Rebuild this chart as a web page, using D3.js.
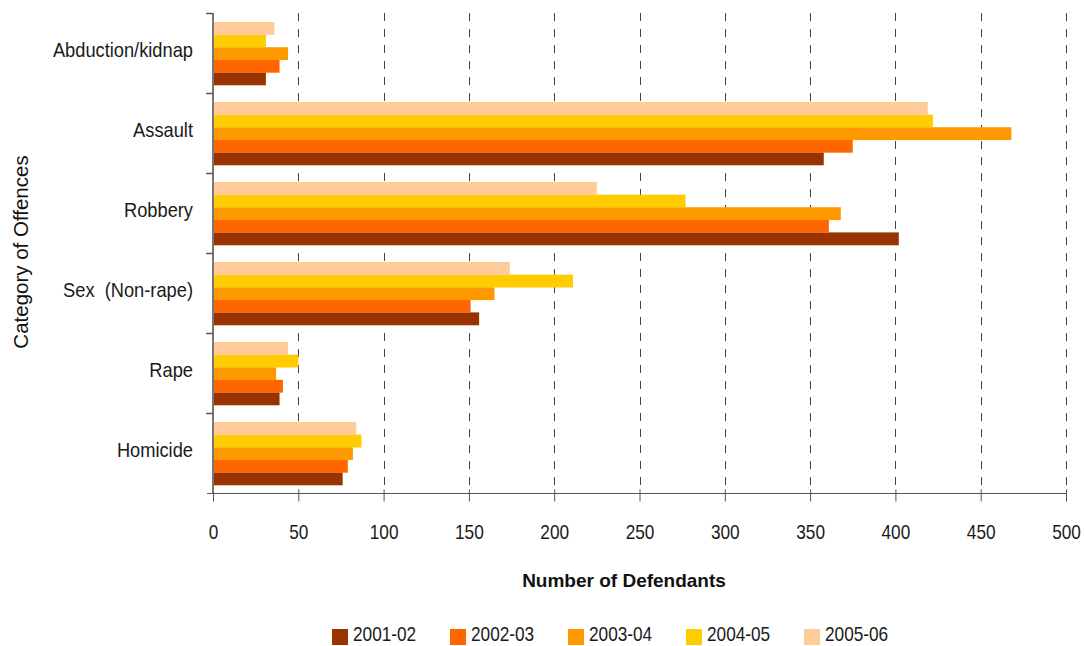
<!DOCTYPE html>
<html>
<head>
<meta charset="utf-8">
<script src="https://cdn.jsdelivr.net/npm/d3@7"></script>
<style>
  body { margin: 0; background: #fff; }
  .narrow { font-family: "Liberation Sans", Arial, sans-serif; }
</style>
</head>
<body>
<div id="target-div"></div>
<script>
const w = 1085
const h = 646
const squeeze = 0.82   // no narrow font installed, so squeeze regular sans
const catSqueeze = 0.87

// categories top to bottom
const categories = ['Abduction/kidnap', 'Assault', 'Robbery', 'Sex  (Non-rape)', 'Rape', 'Homicide']
const years = ['2001-02', '2002-03', '2003-04', '2004-05', '2005-06']
const colors = ['#993300', '#ff6600', '#ff9900', '#ffcc00', '#ffcc99']
const xTicks = [0, 50, 100, 150, 200, 250, 300, 350, 400, 450, 500]

// values per year, in category order
const v2001 = [31, 358, 402, 156, 39, 76]
const v2002 = [39, 375, 361, 151, 41, 79]
const v2003 = [44, 468, 368, 165, 37, 82]
const v2004 = [31, 422, 277, 211, 50, 87]
const v2005 = [36, 419, 225, 174, 44, 84]
const series = [v2001, v2002, v2003, v2004, v2005]

const pLeft = 213, pRight = 1066, pTop = 13, pBottom = 493

let svg = d3.select('#target-div')
    .append('svg')
    .attr('width', w)
    .attr('height', h)

let xScale = d3.scaleLinear()
    .domain([0, 500])
    .range([pLeft, pRight])

let yScale = d3.scaleBand()
    .domain(categories)
    .range([pTop, pBottom])

// 2005-06 sits at the top of each group
let yInner = d3.scaleBand()
    .domain(years.slice().reverse())
    .range([9, 72])

// dashed gridlines
svg.append('g')
    .selectAll('line')
    .data(xTicks.slice(1))
    .enter()
    .append('line')
    .attr('x1', d => Math.round(xScale(d)) + 0.5)
    .attr('x2', d => Math.round(xScale(d)) + 0.5)
    .attr('y1', pTop)
    .attr('y2', pBottom)
    .attr('stroke', '#444')
    .attr('stroke-width', 1)
    .attr('stroke-dasharray', '8,8')

// bars
let rows = []
years.forEach(function(yr, j){
    categories.forEach(function(c, i){
        rows.push({cat: c, year: yr, value: series[j][i], color: colors[j]})
    })
})

svg.append('g')
    .selectAll('rect')
    .data(rows)
    .enter()
    .append('rect')
    .attr('x', xScale(0))
    .attr('y', d => yScale(d.cat) + yInner(d.year))
    .attr('width', d => xScale(d.value) - xScale(0))
    .attr('height', yInner.bandwidth() + 0.3)
    .attr('fill', d => d.color)

// x axis
let xAxis = svg.append('g')
    .attr('transform', 'translate(0,' + (pBottom + 0.5) + ')')
    .call(d3.axisBottom(xScale).tickValues(xTicks).tickSize(8).tickPadding(23).tickSizeOuter(0))
xAxis.select('.domain').attr('stroke', '#555').attr('d', 'M' + (pLeft - 6) + ',0H' + pRight)
xAxis.selectAll('.tick line').attr('stroke', '#555').attr('y1', -4)
xAxis.selectAll('.tick text')
    .attr('class', 'narrow')
    .attr('font-size', '21px')
    .attr('fill', '#1a1a1a')
    .attr('transform', 'scale(' + squeeze + ',1)')

// y axis: line with ticks on group boundaries
let yAxis = svg.append('g')
yAxis.append('line')
    .attr('x1', pLeft).attr('x2', pLeft)
    .attr('y1', pTop).attr('y2', pBottom)
    .attr('stroke', '#777')
    .attr('stroke-width', 2)
yAxis.selectAll('.yt')
    .data(categories)
    .enter()
    .append('line')
    .attr('class', 'yt')
    .attr('x1', pLeft - 7).attr('x2', pLeft)
    .attr('y1', d => yScale(d) + 0.5)
    .attr('y2', d => yScale(d) + 0.5)
    .attr('stroke', '#555')
    .attr('stroke-width', 1.5)
yAxis.selectAll('text')
    .data(categories)
    .enter()
    .append('text')
    .attr('class', 'narrow')
    .attr('transform', d => 'translate(193,' + (yScale(d) + yScale.bandwidth() / 2 - 3) + ') scale(' + catSqueeze + ',1)')
    .attr('dy', '0.35em')
    .attr('text-anchor', 'end')
    .attr('font-size', '21px')
    .attr('fill', '#1a1a1a')
    .style('white-space', 'pre')
    .text(d => d)

// titles
svg.append('text')
    .attr('x', 624)
    .attr('y', 587)
    .attr('text-anchor', 'middle')
    .attr('font-family', 'Liberation Sans, Arial, sans-serif')
    .attr('font-weight', 'bold')
    .attr('font-size', '19px')
    .attr('fill', '#111')
    .text('Number of Defendants')

svg.append('text')
    .attr('transform', 'translate(28,252) rotate(-90)')
    .attr('text-anchor', 'middle')
    .attr('font-family', 'Liberation Sans, Arial, sans-serif')
    .attr('font-size', '20.5px')
    .attr('fill', '#111')
    .text('Category of Offences')

// legend
let legend = svg.append('g')
    .selectAll('g')
    .data(years)
    .enter()
    .append('g')
    .attr('transform', (d, i) => 'translate(' + (332 + i * 118) + ',629)')
legend.append('rect')
    .attr('width', 16)
    .attr('height', 16)
    .attr('fill', (d, i) => colors[i])
legend.append('text')
    .attr('class', 'narrow')
    .attr('transform', 'translate(21,12) scale(' + squeeze + ',1)')
    .attr('font-size', '21px')
    .attr('fill', '#1a1a1a')
    .text(d => d)
</script>
</body>
</html>
